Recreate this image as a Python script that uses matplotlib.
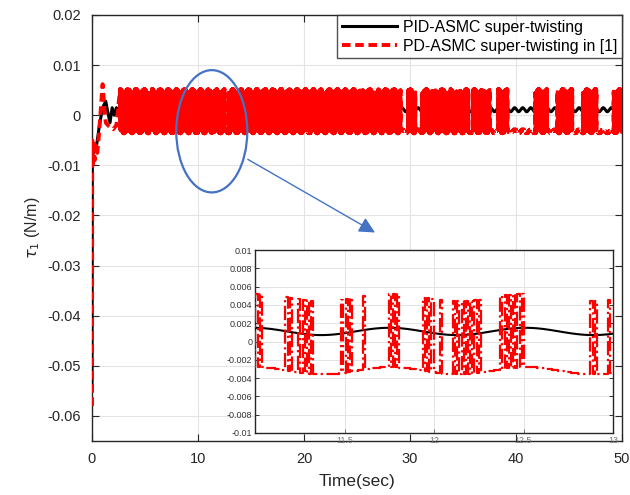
import numpy as np
import matplotlib
matplotlib.use("Agg")
import matplotlib.pyplot as plt
from matplotlib.patches import Ellipse

plt.rcParams['font.family'] = ['Liberation Sans', 'DejaVu Sans']
plt.rcParams['mathtext.fontset'] = 'dejavusans'

# ---------------- data ----------------
# PID-ASMC (black): transient key points, then a slow ripple
black_key_t = [0.0, 0.03, 0.15, 0.4, 0.7, 1.0, 1.3, 1.5, 1.7, 1.9, 2.1, 2.3, 2.6]
black_key_v = [-0.054, -0.008, -0.0075, -0.0065, -0.002, 0.0015, 0.0028, 0.0005,
               -0.0015, 0.0015, 0.0, 0.0015, 0.0008]
black_mean = 0.0011        # steady level
black_amp = 0.0004         # ripple amplitude
black_period = 0.76        # ripple period (s)
black_peak_t = 11.75       # time of a ripple maximum

# PD-ASMC in [1] (red): transient key points
red_key_t = [0.0, 0.02, 0.08, 0.15, 0.25, 0.35, 0.5, 0.65, 0.85, 1.0, 1.15, 1.3,
             1.6, 2.0, 2.3]
red_key_v = [-0.058, -0.005, -0.01, -0.005, -0.009, -0.006, -0.0075, -0.004,
             0.002, 0.0062, 0.002, -0.0015, -0.0022, -0.0028, -0.002]
red_high_offset = 0.0037   # chatter top relative to black
red_low_offset = -0.0043   # chatter bottom relative to black
red_switch_dt = 0.012      # chatter switching step (s)
chatter_start = 2.65
# chattering bursts (start, end) in seconds
burst_start = [2.65, 5.65, 11.16, 11.22, 11.47, 11.60, 11.73, 11.92, 12.02, 12.10,
               12.36, 12.60, 12.67, 12.87, 12.96, 13.02, 18.55, 20.60, 21.10, 22.00,
               23.60, 24.10, 25.50, 27.00, 28.10, 29.80, 31.10, 32.40, 33.80, 34.70,
               35.90, 37.00, 38.30, 41.80, 43.90, 46.30, 49.20]
burst_end = [5.35, 11.05, 11.20, 11.32, 11.55, 11.62, 11.80, 11.99, 12.05, 12.27,
             12.51, 12.61, 12.68, 12.91, 12.98, 18.45, 20.30, 21.00, 21.70, 23.40,
             24.00, 25.30, 26.70, 27.90, 29.10, 30.50, 32.10, 33.50, 34.40, 35.50,
             36.80, 37.50, 39.20, 42.90, 45.30, 47.60, 50.00]

xticks = [0, 10, 20, 30, 40, 50]
yticks = [0.02, 0.01, 0, -0.01, -0.02, -0.03, -0.04, -0.05, -0.06]
ytick_labels = ['0.02', '0.01', '0', '-0.01', '-0.02', '-0.03', '-0.04', '-0.05', '-0.06']
inset_xticks = [11.5, 12, 12.5, 13]
inset_xtick_labels = ['11.5', '12', '12.5', '13']
inset_yticks = [0.01, 0.008, 0.006, 0.004, 0.002, 0, -0.002, -0.004, -0.006, -0.008, -0.01]
inset_ytick_labels = ['0.01', '0.008', '0.006', '0.004', '0.002', '0', '-0.002',
                      '-0.004', '-0.006', '-0.008', '-0.01']
legend_labels = ['PID-ASMC super-twisting', 'PD-ASMC super-twisting in [1]']

# ---------------- build the series ----------------
def ripple(t):
    return black_mean + black_amp * np.cos(2 * np.pi * (t - black_peak_t) / black_period)

t_ss = np.arange(3.0, 50.0001, 0.01)
black_t = np.concatenate([black_key_t, t_ss])
black_v = np.concatenate([black_key_v, ripple(t_ss)])

t_ch = np.arange(chatter_start, 50.0001, red_switch_dt)
base = ripple(t_ch)
in_burst = np.zeros_like(t_ch, dtype=bool)
for s, e in zip(burst_start, burst_end):
    in_burst |= (t_ch >= s) & (t_ch <= e)
parity = (np.arange(len(t_ch)) % 2) == 0
red_ch = np.where(in_burst & parity, base + red_high_offset, base + red_low_offset)
# step form (vertical switching)
rt = np.repeat(t_ch, 2)[1:]
rv = np.repeat(red_ch, 2)[:-1]
ib = np.repeat(in_burst, 2)[:-1]
red_t = np.concatenate([red_key_t, rt])
red_v = np.concatenate([red_key_v, rv])
rv_dense = np.where(ib, rv, np.nan)

# ---------------- figure ----------------
fig = plt.figure(figsize=(6.3, 4.95), dpi=100)
ax = fig.add_axes([92 / 630, 1 - 441 / 495, 530 / 630, 426 / 495])

l1, = ax.plot(black_t, black_v, color='black', lw=2.2, zorder=3)
l2, = ax.plot(red_t, red_v, color='red', lw=2.8, dashes=(2.2, 1.2), zorder=4)
ax.plot(rt, rv_dense, color='red', lw=2.2, zorder=4)

ax.set_xlim(0, 50)
ax.set_ylim(-0.065, 0.02)
ax.set_xticks(xticks)
ax.set_yticks(yticks)
ax.set_yticklabels(ytick_labels)
ax.grid(True, color='#e3e3e3', lw=0.8)
ax.set_axisbelow(True)
ax.tick_params(direction='in', length=5, width=0.8, labelsize=10.5, colors='#262626',
               top=True, right=True, pad=8)
for sp in ax.spines.values():
    sp.set_color('#262626')
    sp.set_linewidth(1.0)
ax.set_xlabel('Time(sec)', fontsize=12.5, color='#262626', labelpad=6)
ax.set_ylabel(r'$\tau_1$ (N/m)', fontsize=11.5, color='#262626', labelpad=4)

leg = ax.legend([l1, l2], legend_labels, loc='upper right', fontsize=11.4,
                frameon=True, fancybox=False, borderaxespad=0, handlelength=3.5,
                borderpad=0.3, labelspacing=0.25, handletextpad=0.35)
leg.get_frame().set_edgecolor('#262626')
leg.get_frame().set_linewidth(1.0)
leg.set_zorder(10)

# ellipse and arrow
ell = Ellipse((11.3, -0.0032), 6.7, 0.0244, fill=False, edgecolor='#4472C4', lw=1.6, zorder=6)
ax.add_patch(ell)
ax.annotate('', xy=(26.7, -0.0234), xytext=(14.7, -0.0088),
            arrowprops=dict(arrowstyle='-|>', color='#4472C4', lw=1.0,
                            mutation_scale=24, shrinkA=0, shrinkB=0), zorder=6)

# inset
axi = fig.add_axes([255 / 630, 1 - 433 / 495, 358 / 630, 183 / 495])
axi.set_facecolor('white')
axi.plot(black_t, black_v, color='black', lw=1.5, zorder=3)
axi.plot(red_t, red_v, color='red', lw=1.6, linestyle='-.', zorder=4)
axi.set_xlim(11, 13)
axi.set_ylim(-0.01, 0.01)
axi.set_xticks(inset_xticks)
axi.set_xticklabels(inset_xtick_labels)
axi.set_yticks(inset_yticks)
axi.set_yticklabels(inset_ytick_labels)
axi.grid(True, color='#e3e3e3', lw=0.7)
axi.set_axisbelow(True)
axi.tick_params(direction='in', length=3, width=0.7, labelsize=6.5, colors='#333333',
                top=False, right=True, pad=2)
axi.tick_params(axis='x', colors='#777777', pad=2.5)
for sp in axi.spines.values():
    sp.set_color('#262626')
    sp.set_linewidth(1.0)

fig.savefig('out.png', dpi=100)
